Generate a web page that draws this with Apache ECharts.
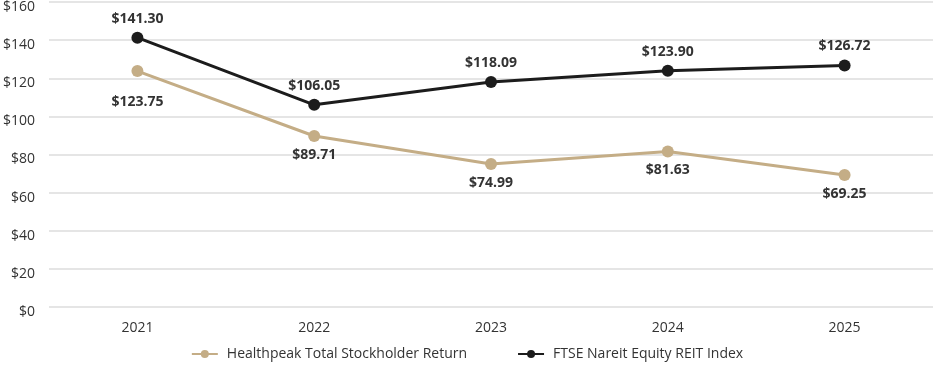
<!DOCTYPE html>
<html>
<head>
<meta charset="utf-8">
<script src="https://cdn.jsdelivr.net/npm/echarts@6/dist/echarts.min.js"></script>
<style>html,body{margin:0;padding:0;background:#fff}#c{width:934px;height:369px}</style>
</head>
<body>
<div id="c"></div>
<script>
const years = ['2021', '2022', '2023', '2024', '2025'];
const healthpeak = [123.75, 89.71, 74.99, 81.63, 69.25];
const ftse = [141.30, 106.05, 118.09, 123.90, 126.72];
const seriesNames = ['Healthpeak Total Stockholder Return', 'FTSE Nareit Equity REIT Index'];
const yTicks = { min: 0, max: 160, interval: 20 };

const font = '"Open Sans", sans-serif';
const chart = echarts.init(document.getElementById('c'), null, { renderer: 'canvas' });
const fmt = v => '$' + v.toFixed(2);
const hpData = healthpeak.map((v, i) => i === 0 ? { value: v, label: { offset: [0, 12] } } : v);
chart.setOption({
  animation: false,
  textStyle: { fontFamily: font },
  grid: { left: 48, right: 1, top: 2, bottom: 62 },
  legend: {
    bottom: 3, left: 'center', itemWidth: 26, itemHeight: 10, itemGap: 50,
    textStyle: { fontFamily: font, fontSize: 14, color: '#333', padding: [0, 0, 0, 4] },
    data: seriesNames
  },
  xAxis: {
    type: 'category', data: years, boundaryGap: true,
    axisLine: { show: false }, axisTick: { show: false },
    axisLabel: { fontFamily: font, fontSize: 14, color: '#333', margin: 14 }
  },
  yAxis: {
    type: 'value', min: yTicks.min, max: yTicks.max, interval: yTicks.interval,
    axisLabel: { fontFamily: font, fontSize: 14, color: '#333', margin: 14,
      verticalAlign: 'top', lineHeight: 10, formatter: v => '$' + v },
    splitLine: { lineStyle: { color: '#dcdcdc', width: 1.5 } }
  },
  series: [
    {
      name: seriesNames[0], type: 'line', data: hpData,
      symbol: 'circle', symbolSize: 12,
      lineStyle: { color: '#c4ad86', width: 3 },
      itemStyle: { color: '#c4ad86' },
      label: { show: true, position: 'bottom', distance: 6, formatter: p => fmt(p.value),
        fontFamily: font, fontSize: 14, fontWeight: 'bold', color: '#333' }
    },
    {
      name: seriesNames[1], type: 'line', data: ftse,
      symbol: 'circle', symbolSize: 12,
      lineStyle: { color: '#1c1c1c', width: 3 },
      itemStyle: { color: '#1c1c1c' },
      label: { show: true, position: 'top', distance: 6, formatter: p => fmt(p.value),
        fontFamily: font, fontSize: 14, fontWeight: 'bold', color: '#333' }
    }
  ]
});
</script>
</body>
</html>
